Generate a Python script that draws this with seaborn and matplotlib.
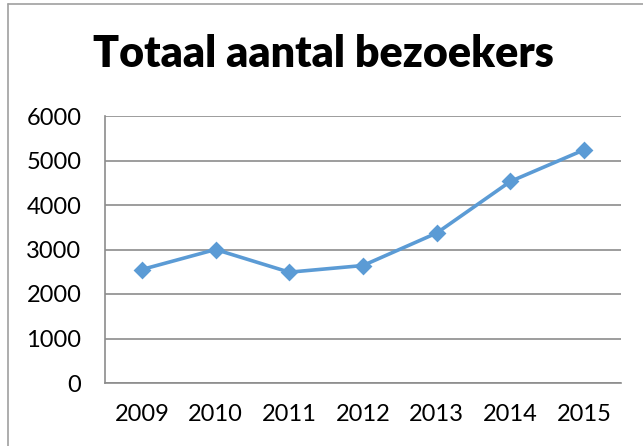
import matplotlib.pyplot as plt
import seaborn as sns
from matplotlib.lines import Line2D

years = ["2009", "2010", "2011", "2012", "2013", "2014", "2015"]
visitors = [2550, 3000, 2490, 2640, 3370, 4530, 5240]
y_ticks = [0, 1000, 2000, 3000, 4000, 5000, 6000]

sns.set_style("white")
plt.rcParams["font.family"] = ["Lato", "DejaVu Sans"]
plt.rcParams["text.color"] = "black"
plt.rcParams["xtick.labelcolor"] = "black"
plt.rcParams["ytick.labelcolor"] = "black"

line_color = "#5B9BD5"
grid_color = "#8C8C8C"

fig = plt.figure(figsize=(6.43, 4.46), dpi=100)
ax = fig.add_axes([105 / 643, 63 / 446, 516 / 643, 267 / 446])

sns.pointplot(x=years, y=visitors, ax=ax, color=line_color, markers="D",
              linewidth=2.6, markersize=7)

ax.set_xlim(-0.5, len(years) - 0.5)
ax.set_ylim(0, 6000)
ax.set_yticks(y_ticks)
ax.set_yticklabels([str(t) for t in y_ticks], fontsize=17)
ax.yaxis.grid(True, color=grid_color, linewidth=1.2)
ax.set_axisbelow(True)

# category boundaries carry the tick marks, labels sit between them
ax.set_xticks([i - 0.5 for i in range(len(years) + 1)])
ax.set_xticklabels([])
ax.set_xticks(range(len(years)), minor=True)
ax.set_xticklabels(years, minor=True, fontsize=17)
ax.tick_params(axis="x", which="major", direction="out", length=7, width=1.2, color=grid_color)
ax.tick_params(axis="x", which="minor", length=0, pad=15)
ax.tick_params(axis="y", direction="out", length=6, width=1.2, color=grid_color, pad=11)

for side in ["top", "right"]:
    ax.spines[side].set_visible(False)
for side in ["left", "bottom"]:
    ax.spines[side].set_color(grid_color)
    ax.spines[side].set_linewidth(1.2)

ax.set_xlabel("")
ax.set_ylabel("")

fig.text(0.503, 0.878, "Totaal aantal bezoekers", ha="center", va="center",
         fontsize=31, fontweight="heavy")

# chart frame (top and left edges visible in the crop)
fig.add_artist(Line2D([8 / 643, 1], [1 - 4 / 446, 1 - 4 / 446], transform=fig.transFigure,
                      color="#A0A0A0", linewidth=1.2))
fig.add_artist(Line2D([8 / 643, 8 / 643], [0, 1 - 4 / 446], transform=fig.transFigure,
                      color="#A0A0A0", linewidth=1.2))

fig.savefig("out.png", dpi=100)
